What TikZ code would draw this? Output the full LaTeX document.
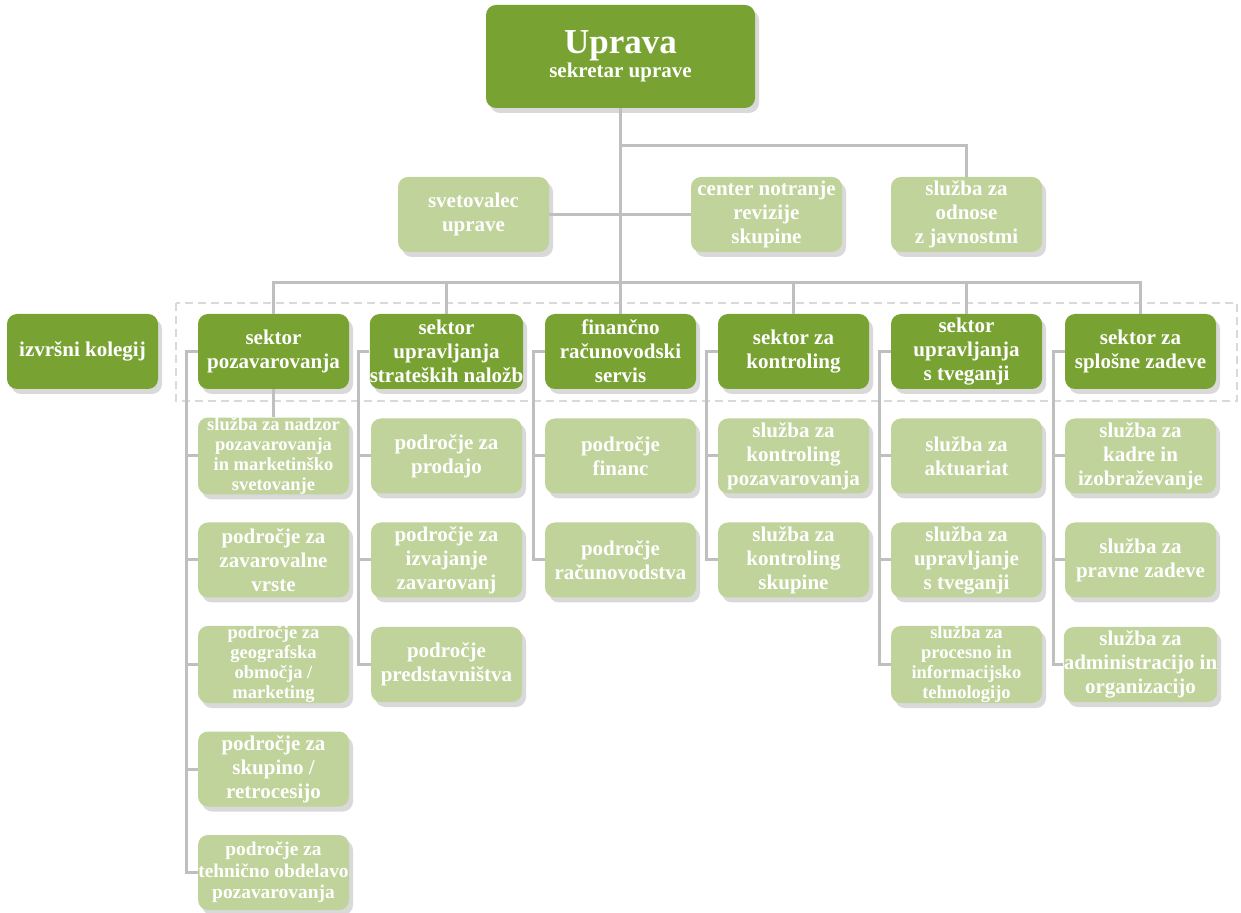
\documentclass[tikz,border=0pt]{standalone}
\usepackage{fontspec}
\setmainfont{Liberation Serif}
\usetikzlibrary{shadows}
\definecolor{darkgreen}{RGB}{120,162,50}
\definecolor{lightgreen}{RGB}{192,211,155}
\definecolor{linegray}{RGB}{191,191,191}
\definecolor{dashgray}{RGB}{217,217,217}

\begin{document}
\begin{tikzpicture}[x=0.5pt, y=-0.5pt,
  box/.style={rounded corners=5pt, minimum width=75.5pt, minimum height=37.5pt,
    inner sep=0pt, align=center, text=white,
    font=\bfseries\fontsize{10.5}{12}\selectfont,
    drop shadow={shadow xshift=2pt, shadow yshift=-2.5pt, fill=black!15, opacity=1}},
  headbox/.style={box, fill=darkgreen},
  unitbox/.style={box, fill=lightgreen},
  tight/.style={font=\bfseries\fontsize{9.25}{10}\selectfont},
  link/.style={draw=linegray, line width=1.5pt}]
  \useasboundingbox (0,0) rectangle (1241,913);

  % Frame round the sectors
  \draw[dashgray, line width=1pt, dash pattern=on 4pt off 2.5pt] (176,303) rectangle (1237,401);

  % Board
  \node[headbox, minimum width=134.5pt, minimum height=51.5pt] (uprava) at (620.5,56.5)
    {{\fontsize{17.5}{17.5}\selectfont Uprava}\\sekretar uprave};

  % Staff
  \node[unitbox] (svetovalec) at (473.5,214.5) {svetovalec\\uprave};
  \node[unitbox] (revizija) at (766.5,214.5) {center notranje\\revizije\\skupine};
  \node[unitbox] (odnosi) at (966.5,214.5) {služba za\\odnose\\z javnostmi};

  % Sectors
  \node[headbox] (kolegij) at (82.5,351.5) {izvršni kolegij};
  \node[headbox] (sektor1) at (273.5,351.5) {sektor\\pozavarovanja};
  \node[headbox] (sektor2) at (446.5,351.5) {sektor\\upravljanja\\strateških naložb};
  \node[headbox] (sektor3) at (620.5,351.5) {finančno\\računovodski\\servis};
  \node[headbox] (sektor4) at (793.5,351.5) {sektor za\\kontroling};
  \node[headbox] (sektor5) at (966.5,351.5) {sektor\\upravljanja\\s tveganji};
  \node[headbox] (sektor6) at (1140.5,351.5) {sektor za\\splošne zadeve};

  % Units of sektor pozavarovanja
  \node[unitbox, tight] (p1a) at (273.5,456) {služba za nadzor\\pozavarovanja\\in marketinško\\svetovanje};
  \node[unitbox] (p1b) at (273.5,560) {področje za\\zavarovalne\\vrste};
  \node[unitbox, tight] (p1c) at (273.5,664.5) {področje za\\geografska\\območja /\\marketing};
  \node[unitbox] (p1d) at (273.5,769) {področje za\\skupino /\\retrocesijo};
  \node[unitbox, font=\bfseries\fontsize{9.7}{10.8}\selectfont] (p1e) at (273.5,872.5) {področje za\\tehnično obdelavo\\pozavarovanja};

  % Units of sektor upravljanja strateških naložb
  \node[unitbox] (p2a) at (446.5,456) {področje za\\prodajo};
  \node[unitbox] (p2b) at (446.5,560) {področje za\\izvajanje\\zavarovanj};
  \node[unitbox] (p2c) at (446.5,664.5) {področje\\predstavništva};

  % Units of finančno računovodski servis
  \node[unitbox] (p3a) at (620.5,456) {področje\\financ};
  \node[unitbox] (p3b) at (620.5,560) {področje\\računovodstva};

  % Units of sektor za kontroling
  \node[unitbox] (p4a) at (793.5,456) {služba za\\kontroling\\pozavarovanja};
  \node[unitbox] (p4b) at (793.5,560) {služba za\\kontroling\\skupine};

  % Units of sektor upravljanja s tveganji
  \node[unitbox] (p5a) at (966.5,456) {služba za\\aktuariat};
  \node[unitbox] (p5b) at (966.5,560) {služba za\\upravljanje\\s tveganji};
  \node[unitbox, tight] (p5c) at (966.5,664.5) {služba za\\procesno in\\informacijsko\\tehnologijo};

  % Units of sektor za splošne zadeve
  \node[unitbox] (p6a) at (1140.5,456) {služba za\\kadre in\\izobraževanje};
  \node[unitbox] (p6b) at (1140.5,560) {služba za\\pravne zadeve};
  \node[unitbox] (p6c) at (1140.5,664.5) {služba za\\administracijo in\\organizacijo};

  % Upper connectors
  \coordinate (bar) at (620.5,283);
  \coordinate (odcep) at (620.5,146);
  \draw[link] (uprava.south) -- (sektor3.north);
  \draw[link] (sektor1.north) |- (bar) -| (sektor6.north);
  \foreach \s in {2,4,5}
    \draw[link] (sektor\s.north) -- (sektor\s.north |- bar);
  \draw[link] (odcep) -| (odnosi.north);
  \draw[link] (svetovalec.east) -- (svetovalec.east -| uprava.south);
  \draw[link] (revizija.west) -- (revizija.west -| uprava.south);

  % Lower connectors
  \draw[link] (sektor1.south) -- (p1a.north);
  \draw[link] (sektor1.west) -- ++(-11,0) |- (p1e.west);
  \foreach \u in {a,b,c,d}
    \draw[link] (p1\u.west) -- ++(-11,0);
  \draw[link] (sektor2.west) -- ++(-11,0) |- (p2c.west);
  \foreach \u in {a,b}
    \draw[link] (p2\u.west) -- ++(-11,0);
  \draw[link] (sektor3.west) -- ++(-11,0) |- (p3b.west);
  \draw[link] (p3a.west) -- ++(-11,0);
  \draw[link] (sektor4.west) -- ++(-11,0) |- (p4b.west);
  \draw[link] (p4a.west) -- ++(-11,0);
  \draw[link] (sektor5.west) -- ++(-11,0) |- (p5c.west);
  \foreach \u in {a,b}
    \draw[link] (p5\u.west) -- ++(-11,0);
  \draw[link] (sektor6.west) -- ++(-11,0) |- (p6c.west);
  \foreach \u in {a,b}
    \draw[link] (p6\u.west) -- ++(-11,0);
\end{tikzpicture}
\end{document}
